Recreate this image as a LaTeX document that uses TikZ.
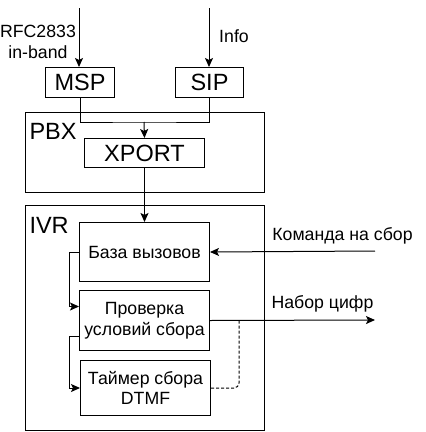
\documentclass[tikz,border=0pt]{standalone}
\usepackage{fontspec}
\setmainfont{Liberation Sans}
\usetikzlibrary{arrows.meta}
\begin{document}
\begin{tikzpicture}[x=1pt,y=1pt,
  box/.style={draw,line width=1pt,inner sep=0pt,anchor=north west},
  big/.style={font=\fontsize{23.5}{27}\selectfont},
  small/.style={font=\fontsize{17.7}{20.5}\selectfont},
  line/.style={line width=1pt},
  arr/.style={line width=1pt,-{Stealth[length=9pt,width=8pt,inset=2pt]}},
]
\useasboundingbox (0,0) rectangle (426,-432);
% containers
\node[box,minimum width=239pt,minimum height=80pt] (pbx) at (25,-112) {};
\node[box,minimum width=239pt,minimum height=225pt] (ivr) at (25,-205) {};
\node[big,anchor=west] (pbxl) at (26,-131) {PBX};
\node[big,anchor=west] (ivrl) at (26,-225) {IVR};
% boxes
\node[box,big,minimum width=69pt,minimum height=30pt] (msp) at (45,-67) {MSP};
\node[box,big,minimum width=68pt,minimum height=30pt] (sip) at (175,-67) {SIP};
\node[box,big,minimum width=120pt,minimum height=29pt] (xport) at (84,-138) {XPORT};
\node[box,small,minimum width=130pt,minimum height=59pt] (base) at (79,-222) {База вызовов};
\node[box,small,minimum width=130pt,minimum height=60pt,align=center] (check) at (79,-290) {Проверка\\условий сбора};
\node[box,small,minimum width=130pt,minimum height=55pt,align=center] (timer) at (80,-360) {Таймер сбора\\DTMF};
% labels
\node[small,align=center] (rfc) at (38,-42) {RFC2833\\in-band};
\node[small] (info) at (234,-36) {Info};
\node[small,anchor=base] (cmd) at (342.5,-240) {Команда на сбор};
\node[small,anchor=base] (dig) at (322.5,-308) {Набор цифр};
% coordinates
\coordinate (mspin) at (79,-8);
\coordinate (sipin) at (209,-8);
\coordinate (merge) at (144,-122);
\coordinate (cmdsrc) at (375,-251);
\coordinate (digout) at (375,-320);
\coordinate (dash) at (239,-320);
% connectors
\draw[arr] (mspin) -- (msp.north -| mspin);
\draw[arr] (sipin) -- (sip.north -| sipin);
\draw[line] (msp.south) |- (merge) -| (sip.south);
\draw[arr] (merge) -- (xport.north);
\draw[arr] (xport.south) -- (base.north -| xport.south);
\draw[arr] (cmdsrc) -- (base.east);
\draw[arr] (base.west) -- ++(-10,0) |- ([yshift=14pt]check.west);
\draw[arr] ([yshift=-16pt]check.west) -- ++(-10,0) |- (timer.west);
\draw[arr] (check.east) -- (digout);
\draw[line,dash pattern=on 3pt off 2pt,rounded corners=5pt] (timer.east) -| (dash);
\end{tikzpicture}
\end{document}
